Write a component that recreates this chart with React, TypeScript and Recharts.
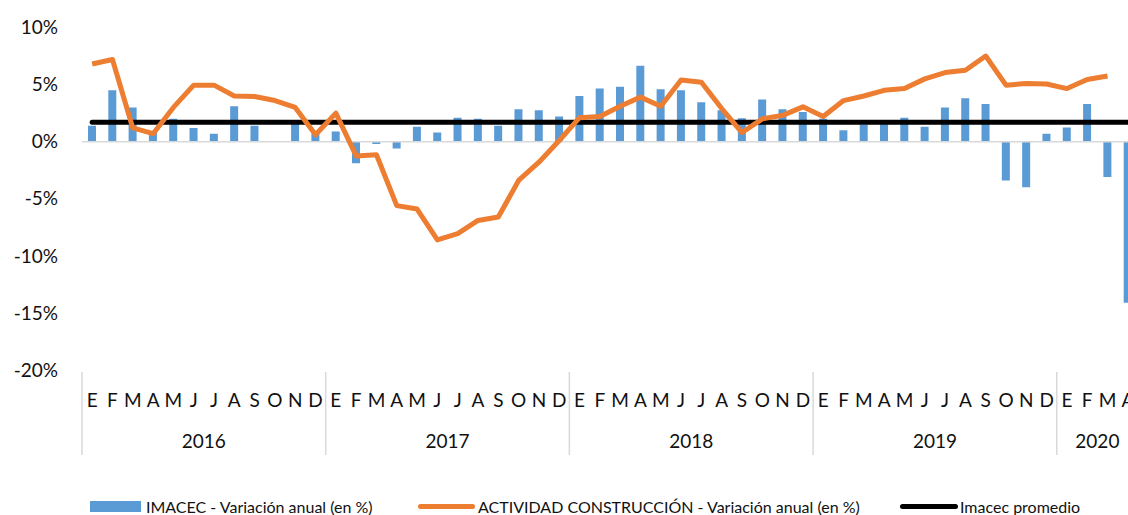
import { Bar, ComposedChart, Line, ReferenceLine, XAxis, YAxis } from "recharts";

const months = ["E", "F", "M", "A", "M", "J", "J", "A", "S", "O", "N", "D"];
const years = ["2016", "2017", "2018", "2019", "2020"];

// IMACEC - variación anual (%), ene-2016 .. abr-2020
const imacec = [
    1.4, 4.5, 3.0, 0.8, 2.0, 1.2, 0.7, 3.1, 1.4, 0.0, 1.7, 0.7,
    0.9, -1.9, -0.2, -0.6, 1.3, 0.8, 2.1, 2.0, 1.4, 2.85, 2.75, 2.2,
    4.0, 4.65, 4.8, 6.65, 4.6, 4.5, 3.45, 2.75, 2.05, 3.7, 2.85, 2.6,
    2.0, 1.0, 1.5, 1.6, 2.1, 1.3, 3.0, 3.8, 3.3, -3.4, -4.0, 0.7,
    1.25, 3.3, -3.1, -14.1,
];

// Actividad construcción - variación anual (%)
const construccion = [
    6.8, 7.2, 1.2, 0.7, 3.0, 4.95, 4.95, 4.0, 3.95, 3.6, 3.0, 0.6,
    2.5, -1.25, -1.15, -5.6, -5.9, -8.6, -8.05, -6.9, -6.6, -3.4, -1.8, 0.1,
    2.1, 2.2, 3.1, 3.9, 3.1, 5.4, 5.2, 2.9, 0.8, 2.0, 2.3, 3.05,
    2.2, 3.6, 4.0, 4.5, 4.65, 5.5, 6.05, 6.25, 7.5, 4.95, 5.1, 5.05,
    4.65, 5.45, 5.75, null,
];

const promedio = 1.7;
const yTicks = [-20, -15, -10, -5, 0, 5, 10];

const data = imacec.map((v, i) => ({
    idx: i,
    imacec: v,
    construccion: construccion[i],
    promedio: promedio,
}));

const CHART_W = 1138;
const Y_W = 82;
const STEP = (CHART_W - Y_W) / data.length;

function MonthTick(props: any) {
    const { x, y, payload } = props;
    const i = payload.value as number;
    const yearIdx = Math.floor(i / 12);
    const start = yearIdx * 12;
    const count = Math.min(12, data.length - start);
    const left = x - STEP / 2;
    return (
        <g>
            <text x={x} y={y + 37} textAnchor="middle" fontSize={19} fill="#111">
                {months[i % 12]}
            </text>
            {i % 12 === 0 && (
                <line x1={left} x2={left} y1={y + 2} y2={y + 85} stroke="#d9d9d9" strokeWidth={1.5} />
            )}
            {i === start + Math.floor(count / 2) && (
                <text x={left} y={y + 78} textAnchor="middle" fontSize={19} fill="#111">
                    {years[yearIdx]}
                </text>
            )}
        </g>
    );
}

const legendText = {
    position: "absolute" as const,
    top: 497,
    fontSize: 16,
    lineHeight: "19px",
    color: "#111",
    whiteSpace: "nowrap" as const,
};

export default function App() {
    return (
        <div
            style={{
                position: "fixed",
                left: 0,
                top: 0,
                width: 1128,
                height: 515,
                overflow: "hidden",
                fontFamily: "Lato, sans-serif",
                background: "#fff",
            }}
        >
            <ComposedChart
                width={CHART_W}
                height={515}
                data={data}
                margin={{ top: 27.5, right: 0, left: 0, bottom: 50 }}
            >
                <YAxis
                    width={Y_W}
                    domain={[-20, 10]}
                    ticks={yTicks}
                    tickFormatter={(v) => `${v}%`}
                    axisLine={false}
                    tickLine={false}
                    tickSize={0}
                    tickMargin={24}
                    tick={{ fontSize: 19, fill: "#111" }}
                    allowDataOverflow
                />
                <XAxis
                    dataKey="idx"
                    interval={0}
                    axisLine={false}
                    tickLine={false}
                    tickSize={0}
                    tickMargin={0}
                    height={95}
                    tick={<MonthTick />}
                />
                <ReferenceLine y={0} stroke="#d9d9d9" strokeWidth={1.5} />
                <Bar dataKey="imacec" fill="#5b9bd5" barSize={8} isAnimationActive={false} />
                <Line
                    type="linear"
                    dataKey="promedio"
                    stroke="#000"
                    strokeWidth={5}
                    strokeLinecap="round"
                    dot={false}
                    activeDot={false}
                    isAnimationActive={false}
                />
                <Line
                    type="linear"
                    dataKey="construccion"
                    stroke="#ed7d31"
                    strokeWidth={5}
                    strokeLinejoin="round"
                    dot={false}
                    activeDot={false}
                    isAnimationActive={false}
                />
            </ComposedChart>

            <div style={{ position: "absolute", left: 90, top: 501, width: 51, height: 11, background: "#5b9bd5" }} />
            <span style={{ ...legendText, left: 146 }}>IMACEC - Variación anual (en %)</span>
            <div style={{ position: "absolute", left: 418, top: 504, width: 57, height: 5, borderRadius: 3, background: "#ed7d31" }} />
            <span style={{ ...legendText, left: 478 }}>ACTIVIDAD CONSTRUCCIÓN - Variación anual (en %)</span>
            <div style={{ position: "absolute", left: 900, top: 504, width: 58, height: 5, borderRadius: 3, background: "#000" }} />
            <span style={{ ...legendText, left: 960 }}>Imacec promedio</span>
        </div>
    );
}
